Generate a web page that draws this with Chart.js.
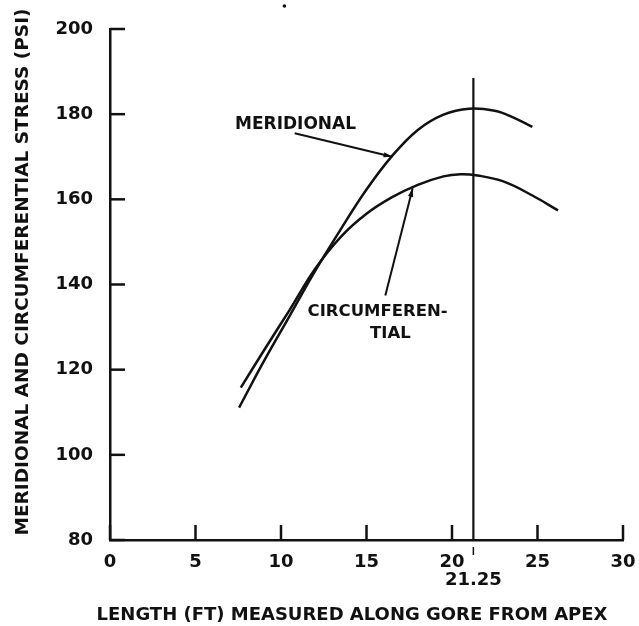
<!DOCTYPE html>
<html>
<head>
<meta charset="utf-8">
<script src="https://cdn.jsdelivr.net/npm/chart.js@4"></script>
<style>
  html, body { margin: 0; padding: 0; background: #fff; }
</style>
</head>
<body>
<canvas id="grafico" width="639" height="626"></canvas>
<script>
// valores
const meridionalX = [7.55, 9.0, 10.5, 12.0, 13.5, 15.0, 16.5, 18.0, 19.5, 21.0, 22.5, 23.6, 24.7]
const meridionalY = [111.1, 122.0, 132.6, 143.2, 153.0, 162.3, 170.2, 176.3, 179.9, 181.3, 180.8, 179.2, 177.0]

const circX = [7.65, 9.0, 10.5, 12.0, 13.5, 15.0, 16.5, 18.0, 19.5, 20.5, 21.5, 23.0, 24.7, 26.2]
const circY = [115.8, 124.5, 134.0, 143.7, 151.2, 156.6, 160.5, 163.4, 165.4, 165.9, 165.6, 164.2, 160.9, 157.4]

const xTicks = [0, 5, 10, 15, 20, 25, 30]
const yTicks = [80, 100, 120, 140, 160, 180, 200]

const markX = 21.25
const markTop = 188.5

const yTitle = "MERIDIONAL AND CIRCUMFERENTIAL STRESS (PSI)"
const xTitle = "LENGTH (FT) MEASURED ALONG GORE FROM APEX"

const ink = "#111"
const fonte = "DejaVu Sans"

const toPoints = (xs, ys) => xs.map((x, i) => ({ x: x, y: ys[i] }))

// desenha ticks para dentro, titulos e anotacoes
const extras = {
  id: "extras",
  afterDraw(chart) {
    const ctx = chart.ctx
    const sx = chart.scales.x
    const sy = chart.scales.y
    const area = chart.chartArea
    ctx.save()
    ctx.strokeStyle = ink
    ctx.fillStyle = ink
    ctx.lineWidth = 2.5

    yTicks.forEach(v => {
      const py = sy.getPixelForValue(v)
      ctx.beginPath()
      ctx.moveTo(area.left, py)
      ctx.lineTo(area.left + 15, py)
      ctx.stroke()
    })
    xTicks.forEach(v => {
      const px = sx.getPixelForValue(v)
      ctx.beginPath()
      ctx.moveTo(px, area.bottom)
      ctx.lineTo(px, area.bottom - 15)
      ctx.stroke()
    })

    // marca 21.25 abaixo do eixo
    const mx = sx.getPixelForValue(markX)
    ctx.lineWidth = 1.5
    ctx.beginPath()
    ctx.moveTo(mx, area.bottom + 7)
    ctx.lineTo(mx, area.bottom + 15)
    ctx.stroke()
    ctx.font = "bold 18px '" + fonte + "'"
    ctx.textAlign = "center"
    ctx.textBaseline = "middle"
    ctx.fillText("21.25", mx, area.bottom + 40)

    // titulos
    ctx.font = "bold 18px '" + fonte + "'"
    ctx.fillText(xTitle, 352, 615)
    ctx.save()
    ctx.translate(23, 272)
    ctx.rotate(-Math.PI / 2)
    ctx.font = "bold 18.5px '" + fonte + "'"
    ctx.fillText(yTitle, 0, 0)
    ctx.restore()

    // anotacoes
    const P = (x, y) => [sx.getPixelForValue(x), sy.getPixelForValue(y)]
    ctx.font = "bold 17px '" + fonte + "'"
    let p = P(10.85, 177.6)
    ctx.fillText("MERIDIONAL", p[0], p[1])
    ctx.font = "bold 16.5px '" + fonte + "'"
    p = P(15.65, 133.6)
    ctx.fillText("CIRCUMFEREN-", p[0], p[1])
    p = P(16.4, 128.4)
    ctx.fillText("TIAL", p[0], p[1])

    const seta = (x0, y0, x1, y1) => {
      const a = P(x0, y0)
      const b = P(x1, y1)
      ctx.lineWidth = 2
      ctx.beginPath()
      ctx.moveTo(a[0], a[1])
      ctx.lineTo(b[0], b[1])
      ctx.stroke()
      const ang = Math.atan2(b[1] - a[1], b[0] - a[0])
      ctx.beginPath()
      ctx.moveTo(b[0], b[1])
      ctx.lineTo(b[0] - 9 * Math.cos(ang - 0.3), b[1] - 9 * Math.sin(ang - 0.3))
      ctx.lineTo(b[0] - 9 * Math.cos(ang + 0.3), b[1] - 9 * Math.sin(ang + 0.3))
      ctx.closePath()
      ctx.fill()
    }
    seta(10.8, 175.5, 16.5, 170.0)
    seta(16.1, 137.4, 17.7, 162.6)

    // ponto solto do scan
    p = P(10.2, 205.4)
    ctx.beginPath()
    ctx.arc(p[0], p[1], 1.8, 0, Math.PI * 2)
    ctx.fill()

    ctx.restore()
  }
}

new Chart(document.getElementById("grafico"), {
  type: "line",
  data: {
    datasets: [
      {
        label: "meridional",
        data: toPoints(meridionalX, meridionalY),
        borderColor: ink,
        borderWidth: 2.5,
        pointRadius: 0,
        tension: 0.4,
        fill: false
      },
      {
        label: "circumferential",
        data: toPoints(circX, circY),
        borderColor: ink,
        borderWidth: 2.5,
        pointRadius: 0,
        tension: 0.4,
        fill: false
      },
      {
        label: "21.25",
        data: [{ x: markX, y: 80 }, { x: markX, y: markTop }],
        borderColor: ink,
        borderWidth: 2.2,
        pointRadius: 0,
        tension: 0
      }
    ]
  },
  options: {
    responsive: false,
    animation: false,
    layout: { padding: { left: 0, top: 29, right: 16, bottom: 0 } },
    plugins: { legend: { display: false }, tooltip: { enabled: false } },
    scales: {
      x: {
        type: "linear",
        min: 0,
        max: 30,
        afterFit: s => { s.height = 86; s.paddingLeft = 0; s.paddingRight = 0 },
        afterBuildTicks: s => { s.ticks = xTicks.map(v => ({ value: v })) },
        grid: { display: false, drawTicks: false },
        border: { display: true, color: ink, width: 2.5 },
        ticks: { color: ink, padding: 12, font: { family: fonte, weight: "bold", size: 18 } }
      },
      y: {
        type: "linear",
        min: 80,
        max: 200,
        afterFit: s => { s.width = 110; s.paddingTop = 0; s.paddingBottom = 0 },
        afterBuildTicks: s => { s.ticks = yTicks.map(v => ({ value: v })) },
        grid: { display: false, drawTicks: false },
        border: { display: true, color: ink, width: 2.5 },
        ticks: { color: ink, padding: 17, font: { family: fonte, weight: "bold", size: 18 } }
      }
    }
  },
  plugins: [extras]
})
</script>
</body>
</html>
